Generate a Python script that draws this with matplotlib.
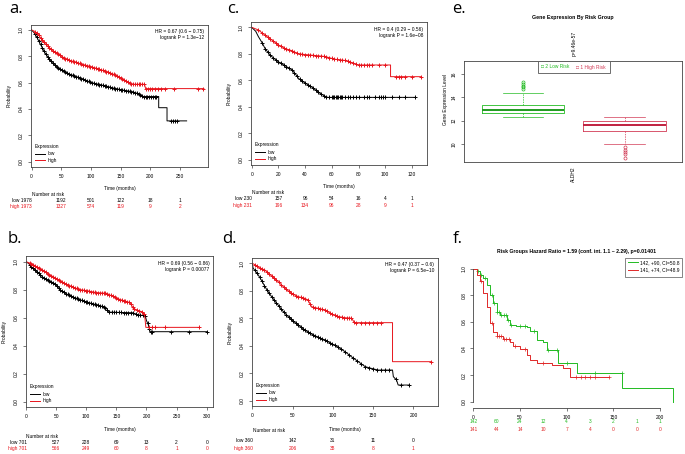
import numpy as np
import matplotlib
matplotlib.use("Agg")
import matplotlib.pyplot as plt
from matplotlib.lines import Line2D
from matplotlib.patches import Rectangle

plt.rcParams['font.family'] = ['Liberation Sans', 'DejaVu Sans']

W, H = 685, 454
RED = '#e8141c'
GREEN = '#22bb22'
FS = 3.5

# ---------------- data (survival curves read as polylines; repeated times = vertical drops) ----------------
# panel a
a_low_t = [0, 5, 10, 15, 22, 28, 34, 40, 45, 56, 65, 73, 85, 101, 115, 129, 140, 152, 165, 174, 183, 188, 214, 214, 228, 228, 261]
a_low_s = [1.0, 0.975, 0.935, 0.89, 0.83, 0.79, 0.755, 0.73, 0.71, 0.68, 0.663, 0.65, 0.63, 0.60, 0.585, 0.57, 0.556, 0.545, 0.535, 0.525, 0.51, 0.495, 0.495, 0.41, 0.41, 0.31, 0.31]
a_high_t = [0, 5, 11, 16, 22, 28, 34, 40, 45, 56, 65, 73, 85, 101, 115, 129, 140, 147, 152, 158, 163, 168, 190, 192, 290]
a_high_s = [1.0, 0.99, 0.967, 0.935, 0.90, 0.872, 0.85, 0.83, 0.815, 0.785, 0.768, 0.757, 0.74, 0.72, 0.70, 0.68, 0.66, 0.645, 0.63, 0.615, 0.60, 0.588, 0.588, 0.555, 0.555]
a_low_cens = [6, 9, 12, 15, 18, 21, 24, 27, 30, 33, 36, 39, 42, 45, 48, 51, 54, 57, 60, 63, 66, 69, 72, 75, 78, 81, 84, 87, 90, 93, 96, 99, 102, 105, 108, 111, 114, 117, 120, 123, 126, 129, 132, 135, 138, 141, 144, 147, 150, 153, 156, 159, 162, 165, 168, 171, 174, 177, 180, 183, 186, 189, 192, 195, 198, 201, 204, 207, 210, 235, 238, 242, 245]
a_high_cens = [6, 9, 12, 15, 18, 21, 24, 27, 30, 33, 36, 39, 42, 45, 48, 51, 54, 57, 60, 63, 66, 69, 72, 75, 78, 81, 84, 87, 90, 93, 96, 99, 102, 105, 108, 111, 114, 117, 120, 123, 126, 129, 132, 135, 138, 141, 144, 147, 150, 153, 156, 159, 162, 165, 168, 171, 174, 177, 180, 183, 186, 189, 193, 196, 199, 203, 207, 212, 218, 225, 240, 280, 288]
a_ticks = [0, 50, 100, 150, 200, 250]
a_risk_low = [1978, 1192, 501, 122, 18, 1]
a_risk_high = [1973, 1327, 574, 119, 9, 2]

# panel c
c_low_t = [0, 3, 5, 8, 10, 13, 15, 18, 20, 25, 30, 33, 35, 40, 45, 50, 55, 57, 122]
c_low_s = [1.0, 0.97, 0.93, 0.88, 0.84, 0.80, 0.78, 0.755, 0.74, 0.71, 0.68, 0.645, 0.615, 0.58, 0.55, 0.51, 0.48, 0.472, 0.472]
c_high_t = [0, 5, 10, 15, 20, 25, 30, 35, 45, 55, 62, 70, 75, 80, 104, 104, 127]
c_high_s = [1.0, 0.98, 0.94, 0.905, 0.867, 0.84, 0.824, 0.80, 0.79, 0.78, 0.76, 0.75, 0.734, 0.716, 0.716, 0.628, 0.628]
c_low_cens = [8, 10, 12, 14, 16, 18, 20, 22, 24, 26, 28, 30, 32, 34, 36, 38, 40, 42, 44, 46, 48, 50, 52, 54, 56, 58, 60, 61, 62, 63, 64, 65, 66, 67, 68, 70, 72, 74, 76, 78, 80, 84, 86, 88, 92, 95, 97, 98, 100, 105, 110, 115, 122]
c_high_cens = [5, 8, 10, 12, 14, 16, 18, 20, 22, 24, 26, 28, 30, 32, 34, 36, 38, 40, 42, 44, 46, 48, 50, 52, 54, 56, 58, 60, 62, 64, 66, 68, 70, 72, 74, 76, 78, 80, 82, 84, 86, 88, 90, 95, 100, 108, 110, 112, 115, 120, 127]
c_ticks = [0, 20, 40, 60, 80, 100, 120]
c_risk_low = [230, 157, 96, 54, 16, 4, 1]
c_risk_high = [231, 196, 134, 96, 28, 9, 1]

# panel b
b_low_t = [0, 5, 10, 15, 23, 29, 34, 45, 50, 56, 67, 80, 95, 110, 123, 134, 137, 178, 184, 198, 200, 203, 206, 300]
b_low_s = [1.0, 0.985, 0.96, 0.94, 0.91, 0.885, 0.87, 0.85, 0.835, 0.80, 0.77, 0.745, 0.72, 0.70, 0.686, 0.667, 0.64, 0.635, 0.62, 0.615, 0.58, 0.55, 0.50, 0.50]
b_high_t = [0, 10, 17, 23, 34, 45, 56, 73, 90, 101, 117, 134, 145, 156, 173, 178, 184, 192, 197, 199, 288]
b_high_s = [1.0, 0.985, 0.965, 0.952, 0.92, 0.893, 0.862, 0.826, 0.80, 0.793, 0.779, 0.774, 0.75, 0.73, 0.707, 0.667, 0.655, 0.643, 0.62, 0.531, 0.531]
b_low_cens = [6, 9, 12, 15, 18, 21, 24, 27, 30, 33, 36, 39, 42, 45, 48, 51, 54, 57, 60, 63, 66, 69, 72, 75, 78, 81, 84, 87, 90, 93, 96, 99, 102, 105, 108, 111, 114, 117, 120, 123, 126, 129, 132, 135, 138, 142, 146, 150, 154, 158, 162, 166, 170, 174, 178, 182, 186, 190, 194, 198, 202, 205, 208, 210, 240, 270, 300]
b_high_cens = [6, 9, 12, 15, 18, 21, 24, 27, 30, 33, 36, 39, 42, 45, 48, 51, 54, 57, 60, 63, 66, 69, 72, 75, 78, 81, 84, 87, 90, 93, 96, 99, 102, 105, 108, 111, 114, 117, 120, 123, 126, 129, 132, 135, 138, 141, 144, 147, 150, 153, 156, 159, 162, 165, 168, 171, 174, 177, 180, 184, 188, 192, 196, 205, 210, 215, 230, 288]
b_ticks = [0, 50, 100, 150, 200, 250, 300]
b_risk_low = [701, 527, 228, 69, 13, 2, 0]
b_risk_high = [701, 566, 249, 60, 8, 1, 0]

# panel d
d_low_t = [0, 1, 7.4, 12, 15.7, 20, 24, 28, 32, 36, 40.5, 45, 49, 57, 65, 73.6, 82, 90, 98, 107, 115, 123, 131.5, 140, 148, 156, 174, 175, 179, 181, 194]
d_low_s = [1.0, 0.965, 0.915, 0.87, 0.83, 0.79, 0.757, 0.725, 0.697, 0.665, 0.636, 0.61, 0.587, 0.551, 0.515, 0.485, 0.461, 0.442, 0.417, 0.388, 0.357, 0.32, 0.284, 0.248, 0.235, 0.223, 0.223, 0.175, 0.15, 0.114, 0.114]
d_high_t = [0, 3, 8, 15.7, 24, 32, 40.5, 49, 57, 65, 69, 73.6, 90, 94, 98, 107, 115, 123, 127, 174, 174, 222.5]
d_high_s = [1.0, 0.99, 0.97, 0.95, 0.908, 0.867, 0.818, 0.78, 0.757, 0.745, 0.733, 0.684, 0.66, 0.648, 0.631, 0.612, 0.604, 0.60, 0.568, 0.568, 0.284, 0.284]
d_low_cens = [3, 6, 9, 12, 15, 18, 21, 24, 27, 30, 33, 36, 39, 42, 45, 48, 51, 54, 57, 60, 63, 66, 69, 72, 75, 78, 81, 84, 87, 90, 93, 96, 99, 102, 106, 110, 115, 120, 125, 130, 135, 140, 145, 150, 155, 160, 165, 170, 178, 185, 194]
d_high_cens = [3, 6, 9, 12, 15, 18, 21, 24, 27, 30, 33, 36, 39, 42, 45, 48, 51, 54, 57, 60, 63, 66, 69, 72, 75, 78, 81, 84, 87, 90, 93, 96, 99, 102, 105, 108, 111, 114, 117, 120, 123, 126, 129, 135, 140, 145, 150, 155, 160, 222]
d_ticks = [0, 50, 100, 150, 200]
d_risk_low = [360, 142, 31, 11, 0]
d_risk_high = [360, 206, 38, 8, 1]

# panel e (boxplot statistics)
e_groups = ['2 Low Risk', '1 High Risk']
e_med = [12.91, 11.62]
e_q1 = [12.65, 11.11]
e_q3 = [13.34, 12.00]
e_whislo = [12.34, 10.00]
e_whishi = [14.34, 12.34]
e_fliers = [[15.3, 15.15, 15.0, 14.85, 14.7], [9.7, 9.5, 9.3, 9.1, 8.8]]

# panel f (step curves)
f_green_t = [0, 3.6, 7, 10.7, 14.3, 17.9, 21.4, 25, 28.6, 35.7, 39, 46, 57, 61, 68, 75, 78.6, 91, 110.7, 159.6, 214]
f_green_s = [1.0, 0.98, 0.955, 0.93, 0.88, 0.804, 0.74, 0.678, 0.653, 0.616, 0.578, 0.573, 0.565, 0.528, 0.465, 0.447, 0.39, 0.289, 0.214, 0.106, 0.0]
f_red_t = [0, 3.6, 7, 10.7, 14.3, 17.9, 21.4, 25, 32, 39, 43, 50, 57, 61, 68, 84, 96, 103.6, 144.6]
f_red_s = [1.0, 0.955, 0.905, 0.817, 0.716, 0.59, 0.523, 0.497, 0.472, 0.447, 0.422, 0.397, 0.352, 0.314, 0.289, 0.276, 0.256, 0.188, 0.188]
f_green_cens = [5, 8, 12, 20, 22, 25, 27, 30, 33, 35, 37, 40, 50, 55, 65, 80, 90, 100, 130, 159]
f_red_cens = [8, 20, 25, 28, 30, 33, 35, 38, 45, 55, 75, 110, 115, 120, 125, 130, 145]
f_ticks = [0, 50, 100, 150, 200]
f_risk_times = [0, 25, 50, 75, 100, 125, 150, 175, 200]
f_risk_green = [142, 60, 24, 12, 4, 3, 2, 1, 1]
f_risk_red = [141, 44, 14, 10, 7, 4, 0, 0, 0]

# ---------------- helpers ----------------
fig = plt.figure(figsize=(W / 100, H / 100), dpi=100)


def ftext(x, y, s, **kw):
    kw.setdefault('fontsize', FS)
    kw.setdefault('ha', 'center')
    kw.setdefault('va', 'center')
    fig.text(x / W, 1 - y / H, s, **kw)


def fline(x1, x2, y, color, lw=0.7):
    fig.add_artist(Line2D([x1 / W, x2 / W], [1 - y / H] * 2, color=color, lw=lw,
                          transform=fig.transFigure))


def axes_px(l, t, r, b):
    return fig.add_axes([l / W, 1 - b / H, (r - l) / W, (b - t) / H])


def style_axes(ax):
    for s in ax.spines.values():
        s.set_linewidth(0.6)
        s.set_color('#444444')
    ax.tick_params(length=2, width=0.5, labelsize=FS, color='#444444', pad=3.0)


def on_curve(t, s, c, step=False):
    t = np.asarray(t, float)
    s = np.asarray(s, float)
    out = []
    for cv in c:
        i = int(np.searchsorted(t, cv, side='right')) - 1
        i = min(max(i, 0), len(t) - 1)
        if step or i == len(t) - 1 or t[i + 1] == t[i]:
            out.append(s[i])
        else:
            f = (cv - t[i]) / (t[i + 1] - t[i])
            out.append(s[i] + f * (s[i + 1] - s[i]))
    return out


def letter(x, y, s):
    fig.text(x / W, 1 - y / H, s, fontsize=12, family='Open Sans', ha='left', va='baseline')


def km_panel(box, xlim, xticks, lo, hi, hr, risk_lo, risk_hi, offs):
    l, t, r, b = box
    ax = axes_px(l, t, r, b)
    for (tt, ss, cc, col) in (lo + ('black',), hi + (RED,)):
        ax.plot(tt, ss, color=col, lw=0.7)
        ax.plot(cc, on_curve(tt, ss, cc), ls='none', marker='+', ms=3.2, mew=0.7, color=col)
    ax.set_xlim(*xlim)
    ax.set_ylim(-0.04, 1.04)
    ax.set_xticks(xticks)
    ax.set_xticklabels([str(v) for v in xticks])
    ax.set_yticks([0, 0.2, 0.4, 0.6, 0.8, 1.0])
    ax.set_yticklabels(['0.0', '0.2', '0.4', '0.6', '0.8', '1.0'], rotation=90, va='center')
    style_axes(ax)

    def px(tv):
        return l + (tv - xlim[0]) / (xlim[1] - xlim[0]) * (r - l)

    ftext(l - 21.5, (t + b) / 2, 'Probability', rotation=90)
    ftext((l + r) / 2, b + offs[0], 'Time (months)')
    ftext(r - 4, t + 7, hr[0], ha='right')
    ftext(r - 4, t + 13, hr[1], ha='right')
    # legend
    ftext(l + 4, b - 20.5, 'Expression', ha='left')
    fline(l + 4, l + 14, b - 13.2, 'black')
    ftext(l + 17, b - 13.2, 'low', ha='left')
    fline(l + 4, l + 14, b - 6.6, RED)
    ftext(l + 17, b - 6.6, 'high', ha='left')
    # number at risk
    x0 = px(0)
    ftext(x0 + 0.5, b + offs[1], 'Number at risk', ha='left')
    for i, (tv, vl, vh) in enumerate(zip(xticks, risk_lo, risk_hi)):
        if i == 0:
            ftext(x0 + 0.5, b + offs[2], 'low %d' % vl, ha='right')
            ftext(x0 + 0.5, b + offs[3], 'high %d' % vh, ha='right', color=RED)
        else:
            ftext(px(tv), b + offs[2], str(vl))
            ftext(px(tv), b + offs[3], str(vh), color=RED)
    return ax


# ---------------- panels a-d ----------------
km_panel((31, 24.7, 208, 167), (-1, 297), a_ticks,
         (a_low_t, a_low_s, a_low_cens), (a_high_t, a_high_s, a_high_cens),
         ('HR = 0.67 (0.6 \u2212 0.75)', 'logrank P = 1.3e\u221212'),
         a_risk_low, a_risk_high, (21.3, 27.3, 33.0, 39.7))
km_panel((250.5, 22, 427, 165.3), (-0.9, 131.3), c_ticks,
         (c_low_t, c_low_s, c_low_cens), (c_high_t, c_high_s, c_high_cens),
         ('HR = 0.4 (0.29 \u2212 0.56)', 'logrank P = 1.6e\u221208'),
         c_risk_low, c_risk_high, (20.7, 27.4, 33.7, 39.7))
km_panel((26, 256.1, 213.3, 407.3), (0, 311), b_ticks,
         (b_low_t, b_low_s, b_low_cens), (b_high_t, b_high_s, b_high_cens),
         ('HR = 0.69 (0.56 \u2212 0.86)', 'logrank P = 0.00077'),
         b_risk_low, b_risk_high, (22.7, 29.4, 35.0, 41.0))
km_panel((251.7, 257.8, 438.3, 406.2), (-0.75, 230.8), d_ticks,
         (d_low_t, d_low_s, d_low_cens), (d_high_t, d_high_s, d_high_cens),
         ('HR = 0.47 (0.37 \u2212 0.6)', 'logrank P = 6.5e\u221210'),
         d_risk_low, d_risk_high, (23.1, 24.5, 34.8, 42.1))

# ---------------- panel e ----------------
axe = axes_px(464, 61, 682, 162)
e_cols = [GREEN, '#d23a55']
e_med_cols = ['#1f9a1f', '#c0203f']
stats = []
for i in range(2):
    stats.append(dict(med=e_med[i], q1=e_q1[i], q3=e_q3[i], whislo=e_whislo[i],
                      whishi=e_whishi[i], fliers=e_fliers[i], label=e_groups[i]))
for i in range(2):
    axe.bxp([stats[i]], positions=[i + 1], widths=0.81, capwidths=0.40, showfliers=True,
            boxprops=dict(color=e_cols[i], lw=0.6),
            medianprops=dict(color=e_med_cols[i], lw=1.4),
            whiskerprops=dict(color=e_cols[i], lw=0.5, ls=(0, (2, 1.5))),
            capprops=dict(color=e_cols[i], lw=0.5),
            flierprops=dict(marker='o', ms=2.2, mfc='none', mec=e_cols[i], mew=0.5))
axe.set_xlim(0.419, 2.566)
axe.set_ylim(8.45, 17.1)
axe.set_yticks([10, 12, 14, 16])
axe.set_yticklabels(['10', '12', '14', '16'], rotation=90, va='center')
axe.set_xticks([1.5])
axe.set_xticklabels(['ALDH2'], rotation=90, va='top')
style_axes(axe)
axe.tick_params(axis='x', length=0)
ftext(573, 18, 'Gene Expression By Risk Group', fontweight='bold', fontsize=3.8)
ftext(574, 43, 'p=9.46e-57', rotation=90)
ftext(446, 100, 'Gene Expression Level', rotation=90)
fig.add_artist(Rectangle((538 / W, 1 - 73 / H), 72 / W, 12 / H, transform=fig.transFigure,
                         fc='white', ec='#555555', lw=0.6))
ftext(541, 67, '\u25a1 ' + e_groups[0], ha='left', color=GREEN)
ftext(576, 67, '\u25a1 ' + e_groups[1], ha='left', color=e_cols[1])

# ---------------- panel f ----------------
axf = axes_px(473.3, 258, 682, 408.3)
for tt, ss, cc, col in ((f_green_t, f_green_s, f_green_cens, GREEN),
                        (f_red_t, f_red_s, f_red_cens, '#e02828')):
    axf.step(tt, ss, where='post', color=col, lw=0.7)
    axf.plot(cc, on_curve(tt, ss, cc, step=True), ls='none', marker='+', ms=2.5, mew=0.5, color=col)
axf.set_xlim(0, 223.4)
axf.set_ylim(-0.05, 1.081)
axf.set_xticks(f_ticks)
axf.set_yticks([0, 0.2, 0.4, 0.6, 0.8, 1.0])
axf.set_yticklabels(['0.0', '0.2', '0.4', '0.6', '0.8', '1.0'], rotation=90, va='center')
style_axes(axf)
axf.spines['top'].set_visible(False)
axf.spines['right'].set_visible(False)
axf.spines['left'].set_bounds(0, 1)
axf.spines['bottom'].set_bounds(0, 200)
ftext(577, 252, 'Risk Groups Hazard Ratio = 1.59 (conf. int. 1.1 ~ 2.29), p=0.01401',
      fontweight='bold', fontsize=3.7)
fig.add_artist(Rectangle((625 / W, 1 - 277 / H), 57 / W, 19 / H, transform=fig.transFigure,
                         fc='white', ec='#555555', lw=0.5))
fline(628, 638, 262.3, GREEN)
ftext(640, 262.3, '142, +90, CI=50.8', ha='left')
fline(628, 638, 270, '#e02828')
ftext(640, 270, '141, +74, CI=48.9', ha='left')
for tv, g, rr in zip(f_risk_times, f_risk_green, f_risk_red):
    xp = 473.3 + tv / 223.4 * (682 - 473.3)
    ftext(xp, 421.7, str(g), color=GREEN)
    ftext(xp, 429.3, str(rr), color='#e02828')

# ---------------- panel letters ----------------
letter(9, 13, 'a.')
letter(227, 13, 'c.')
letter(452, 13, 'e.')
letter(8, 243, 'b.')
letter(222, 243, 'd.')
letter(453, 243, 'f.')

fig.savefig('out.png', dpi=100)
